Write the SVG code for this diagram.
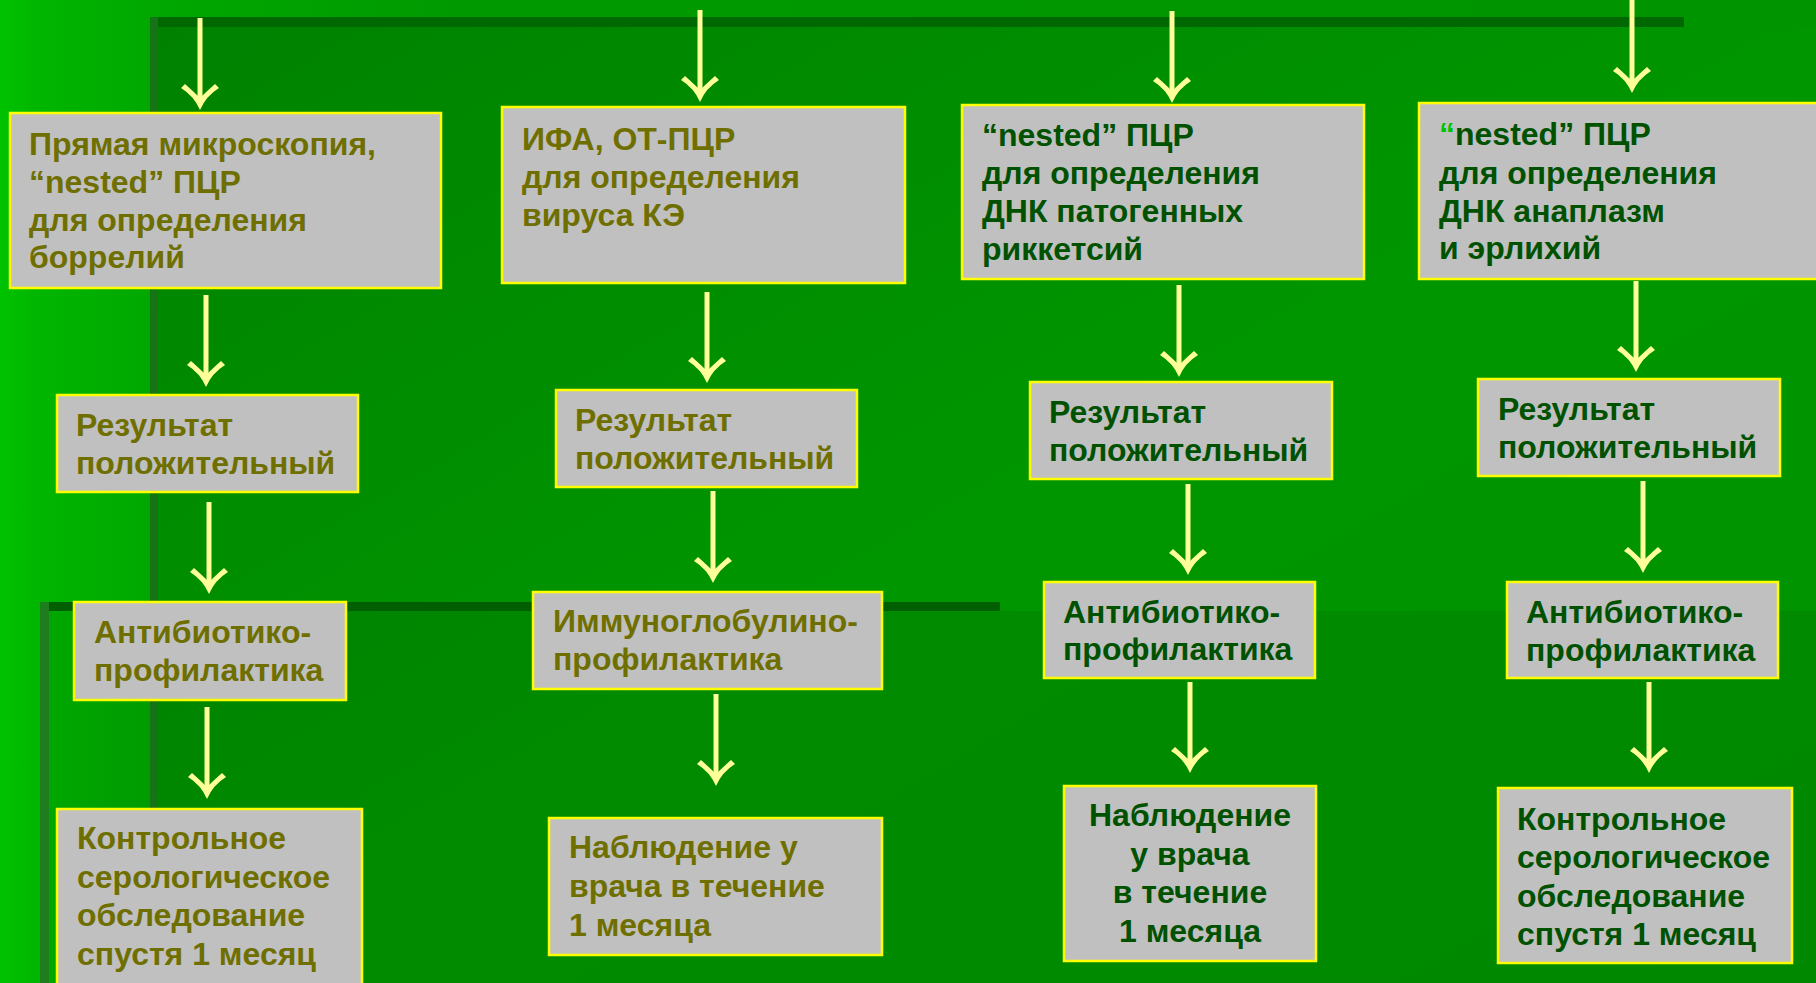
<svg xmlns="http://www.w3.org/2000/svg" width="1816" height="983" viewBox="0 0 1816 983">
<defs>
<linearGradient id="bgGrad" x1="0" y1="0" x2="1" y2="0">
<stop offset="0" stop-color="#00c200"/>
<stop offset="0.02" stop-color="#00b600"/>
<stop offset="0.08" stop-color="#00a800"/>
<stop offset="0.25" stop-color="#009a00"/>
<stop offset="1" stop-color="#009400"/>
</linearGradient>
<linearGradient id="panelGrad" x1="0" y1="0" x2="1" y2="1">
<stop offset="0" stop-color="#008200"/>
<stop offset="0.5" stop-color="#009600"/>
<stop offset="1" stop-color="#009400"/>
</linearGradient>
<marker id="head" viewBox="-30 -22 32 44" markerWidth="32" markerHeight="44" refX="-10" refY="0" markerUnits="userSpaceOnUse" orient="auto" overflow="visible">
<path d="M0,0 Q-14,6 -22,19 L-26,15 Q-18,6 -12,0 Q-18,-6 -26,-15 L-22,-19 Q-14,-6 0,0 Z" fill="#ffff99"/>
</marker>
</defs>
<style>
.box{fill:#c0c0c0;stroke:#ffff00;stroke-width:2.5}
text{font-family:"Liberation Sans",Arial,sans-serif;font-weight:bold;font-size:32px}
.ol{fill:#6f6f00}
.dg{fill:#005200}
.q{fill:#00c400}
.arrow{stroke:#ffff99;stroke-width:5;fill:none;marker-end:url(#head)}
</style>
<g id="background">
<rect x="0" y="0" width="1816" height="983" fill="url(#bgGrad)"/>
<rect x="158" y="27" width="1658" height="956" fill="url(#panelGrad)"/>
<rect x="49" y="611" width="1767" height="372" fill="#000" opacity="0.07"/>
<rect x="150" y="17" width="1534" height="10" fill="#006800"/>
<rect x="150" y="17" width="8" height="966" fill="#167416"/>
<rect x="40" y="602" width="960" height="9" fill="#005f00"/>
<rect x="40" y="602" width="9" height="381" fill="#1e7e1e"/>
</g>
<g id="connectors">
<line class="arrow" x1="200" y1="18" x2="200" y2="100"/>
<line class="arrow" x1="206" y1="295" x2="206" y2="377"/>
<line class="arrow" x1="209" y1="502" x2="209" y2="584"/>
<line class="arrow" x1="207" y1="707" x2="207" y2="789"/>
<line class="arrow" x1="700" y1="10" x2="700" y2="92"/>
<line class="arrow" x1="707" y1="292" x2="707" y2="373"/>
<line class="arrow" x1="713" y1="491" x2="713" y2="573"/>
<line class="arrow" x1="716" y1="694" x2="716" y2="776"/>
<line class="arrow" x1="1172" y1="11" x2="1172" y2="93"/>
<line class="arrow" x1="1179" y1="285" x2="1179" y2="367"/>
<line class="arrow" x1="1188" y1="484" x2="1188" y2="565"/>
<line class="arrow" x1="1190" y1="682" x2="1190" y2="763"/>
<line class="arrow" x1="1632" y1="0" x2="1632" y2="83"/>
<line class="arrow" x1="1636" y1="281" x2="1636" y2="362"/>
<line class="arrow" x1="1643" y1="481" x2="1643" y2="563"/>
<line class="arrow" x1="1649" y1="682" x2="1649" y2="763"/>
</g>
<g id="a1">
<rect class="box" x="10" y="113" width="431" height="175"/>
<text class="ol"><tspan x="29" y="155">Прямая микроскопия,</tspan><tspan x="29" y="193">“nested” ПЦР</tspan><tspan x="29" y="231">для определения</tspan><tspan x="29" y="268">боррелий</tspan></text>
</g>
<g id="a2">
<rect class="box" x="57" y="395" width="301" height="97"/>
<text class="ol"><tspan x="76" y="436">Результат</tspan><tspan x="76" y="474">положительный</tspan></text>
</g>
<g id="a3">
<rect class="box" x="74" y="602" width="272" height="98"/>
<text class="ol"><tspan x="94" y="643">Антибиотико-</tspan><tspan x="94" y="681">профилактика</tspan></text>
</g>
<g id="a4">
<rect class="box" x="57" y="809" width="305" height="190"/>
<text class="ol"><tspan x="77" y="849">Контрольное</tspan><tspan x="77" y="887.5">серологическое</tspan><tspan x="77" y="926">обследование</tspan><tspan x="77" y="964.5">спустя 1 месяц</tspan></text>
</g>
<g id="b1">
<rect class="box" x="502" y="107" width="403" height="176"/>
<text class="ol"><tspan x="522" y="150">ИФА, ОТ-ПЦР</tspan><tspan x="522" y="188">для определения</tspan><tspan x="522" y="226">вируса КЭ</tspan></text>
</g>
<g id="b2">
<rect class="box" x="556" y="390" width="301" height="97"/>
<text class="ol"><tspan x="575" y="431">Результат</tspan><tspan x="575" y="469">положительный</tspan></text>
</g>
<g id="b3">
<rect class="box" x="533" y="592" width="349" height="97"/>
<text class="ol"><tspan x="553" y="632">Иммуноглобулино-</tspan><tspan x="553" y="670">профилактика</tspan></text>
</g>
<g id="b4">
<rect class="box" x="549" y="818" width="333" height="137"/>
<text class="ol"><tspan x="569" y="858">Наблюдение у</tspan><tspan x="569" y="897">врача в течение</tspan><tspan x="569" y="936">1 месяца</tspan></text>
</g>
<g id="c1">
<rect class="box" x="962" y="105" width="402" height="174"/>
<text class="dg"><tspan x="982" y="146">“nested” ПЦР</tspan><tspan x="982" y="184">для определения</tspan><tspan x="982" y="222">ДНК патогенных</tspan><tspan x="982" y="260">риккетсий</tspan></text>
</g>
<g id="c2">
<rect class="box" x="1030" y="382" width="302" height="97"/>
<text class="dg"><tspan x="1049" y="423">Результат</tspan><tspan x="1049" y="461">положительный</tspan></text>
</g>
<g id="c3">
<rect class="box" x="1044" y="582" width="271" height="96"/>
<text class="dg"><tspan x="1063" y="623">Антибиотико-</tspan><tspan x="1063" y="660">профилактика</tspan></text>
</g>
<g id="c4">
<rect class="box" x="1064" y="786" width="252" height="175"/>
<text class="dg" text-anchor="middle"><tspan x="1190" y="826">Наблюдение</tspan><tspan x="1190" y="865">у врача</tspan><tspan x="1190" y="903">в течение</tspan><tspan x="1190" y="942">1 месяца</tspan></text>
</g>
<g id="d1">
<rect class="box" x="1419" y="103" width="420" height="176"/>
<text class="dg"><tspan x="1439" y="145"><tspan class="q">“</tspan>nested” ПЦР</tspan><tspan x="1439" y="184">для определения</tspan><tspan x="1439" y="222">ДНК анаплазм</tspan><tspan x="1439" y="259">и эрлихий</tspan></text>
</g>
<g id="d2">
<rect class="box" x="1478" y="379" width="302" height="97"/>
<text class="dg"><tspan x="1498" y="420">Результат</tspan><tspan x="1498" y="458">положительный</tspan></text>
</g>
<g id="d3">
<rect class="box" x="1507" y="582" width="271" height="96"/>
<text class="dg"><tspan x="1526" y="623">Антибиотико-</tspan><tspan x="1526" y="661">профилактика</tspan></text>
</g>
<g id="d4">
<rect class="box" x="1498" y="788" width="294" height="175"/>
<text class="dg"><tspan x="1517" y="830">Контрольное</tspan><tspan x="1517" y="868">серологическое</tspan><tspan x="1517" y="907">обследование</tspan><tspan x="1517" y="945">спустя 1 месяц</tspan></text>
</g>
</svg>
